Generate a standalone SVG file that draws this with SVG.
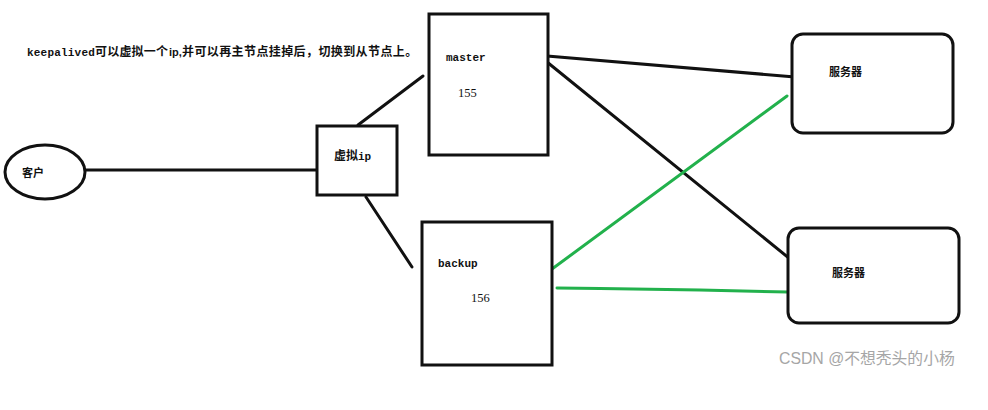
<svg xmlns="http://www.w3.org/2000/svg" width="988" height="410" viewBox="0 0 988 410">
<style>
.shape{fill:#fff;stroke:#111;stroke-width:3}
.blk{stroke:#111;stroke-width:3;fill:none;stroke-linecap:round}
.grn{stroke:#22b14c;stroke-width:3;fill:none;stroke-linecap:round}
.cjk{font-family:"Noto Sans CJK SC","Liberation Sans",sans-serif;font-weight:bold;fill:#111}
.mono{font-family:"Liberation Mono","DejaVu Sans Mono",monospace;font-weight:bold;fill:#111}
.sans{font-family:"Liberation Sans","DejaVu Sans",sans-serif;font-weight:bold;fill:#111}
.num{font-family:"Liberation Serif","DejaVu Serif",serif;fill:#111}
</style>
<rect width="988" height="410" fill="#fff"/>
<g id="note">
<text y="56"><tspan class="mono" x="27" font-size="11" letter-spacing="0.2">keepalived</tspan><tspan class="cjk" x="95" font-size="12" letter-spacing="0.2">可以虚拟一个</tspan><tspan class="sans" x="169" font-size="11">ip,</tspan><tspan class="cjk" x="182" font-size="12" letter-spacing="0.4">并可以再主节点挂掉后，切换到从节点上。</tspan></text>
</g>
<g id="connectors">
<line class="blk" x1="85" y1="170" x2="317" y2="170"/>
<line class="blk" x1="358" y1="125" x2="423" y2="76"/>
<line class="blk" x1="366" y1="197" x2="412" y2="267"/>
<line class="blk" x1="547" y1="56" x2="795" y2="77"/>
<line class="blk" x1="547" y1="62" x2="795" y2="263"/>
<line class="grn" x1="552" y1="269" x2="787" y2="96"/>
<path class="grn" d="M557 288 L600 288.5 L700 290 L788 292"/>
</g>
<g id="client">
<ellipse class="shape" cx="45" cy="172" rx="40" ry="27"/>
<text class="cjk" x="22" y="177" font-size="11">客户</text>
</g>
<g id="vip">
<rect class="shape" x="317" y="126" width="80" height="69"/>
<text x="334" y="160" font-size="12"><tspan class="cjk">虚拟</tspan><tspan class="mono" font-size="11">ip</tspan></text>
</g>
<g id="master">
<rect class="shape" x="429" y="14" width="119" height="141"/>
<text class="mono" x="446" y="61" font-size="11">master</text>
<text class="num" x="458" y="97" font-size="12.5">155</text>
</g>
<g id="backup">
<rect class="shape" x="422" y="222" width="130" height="143"/>
<text class="mono" x="438" y="267" font-size="11">backup</text>
<text class="num" x="471" y="302" font-size="12.5">156</text>
</g>
<g id="server1">
<rect class="shape" x="792" y="34" width="161" height="99" rx="11"/>
<text class="cjk" x="829" y="76" font-size="11">服务器</text>
</g>
<g id="server2">
<rect class="shape" x="788" y="228" width="171" height="95" rx="11"/>
<text class="cjk" x="832" y="277" font-size="11">服务器</text>
</g>
<text x="779" y="364" font-family="'Liberation Sans','Noto Sans CJK SC',sans-serif" font-size="15.8" fill="#a6a6a6">CSDN @不想秃头的小杨</text>
</svg>
